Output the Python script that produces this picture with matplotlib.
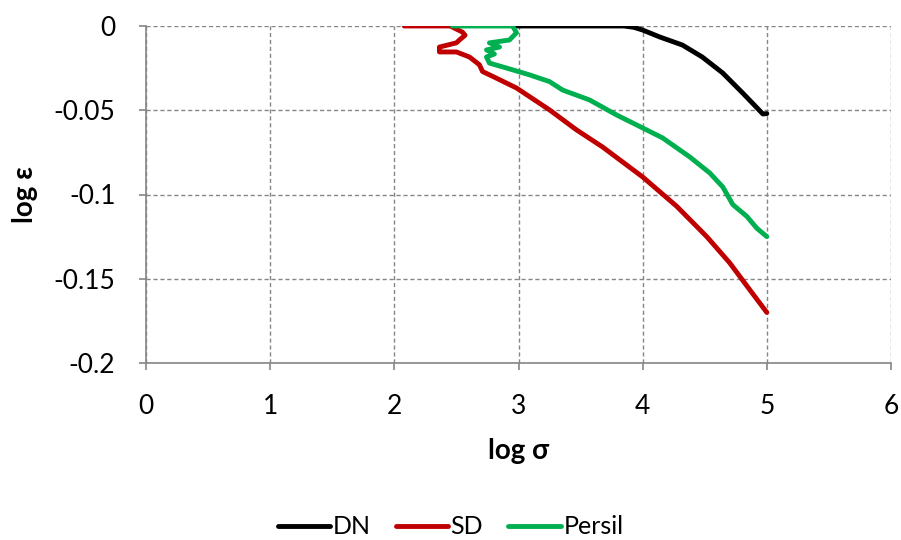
import matplotlib
matplotlib.use("Agg")
import matplotlib.pyplot as plt

plt.rcParams['font.family'] = ['Lato', 'DejaVu Sans']

dn_x = [2.95, 3.5, 3.85, 3.93, 4.0, 4.137, 4.32, 4.48, 4.645, 4.806, 4.968, 5.0]
dn_y = [0.0, 0.0, 0.0, -0.0008, -0.0024, -0.0065, -0.0113, -0.0184, -0.0279, -0.0398, -0.0522, -0.052]

sd_x = [2.08, 2.45, 2.548, 2.57, 2.524, 2.50, 2.363, 2.363, 2.50, 2.605, 2.685, 2.71, 2.823, 2.984,
        3.25, 3.468, 3.677, 4.0, 4.274, 4.516, 4.7, 4.863, 5.0]
sd_y = [0.0, 0.0, -0.0036, -0.0055, -0.0083, -0.0100, -0.0125, -0.0154, -0.0154, -0.0184, -0.023, -0.027, -0.031, -0.0368,
        -0.0498, -0.0617, -0.0718, -0.0896, -0.107, -0.125, -0.1405, -0.1566, -0.170]

pe_x = [2.468, 2.952, 2.984, 2.927, 2.766, 2.847, 2.742, 2.806, 2.742, 2.766, 2.952, 3.089, 3.25,
        3.355, 3.573, 3.79, 4.0, 4.16, 4.379, 4.54, 4.645, 4.726, 4.839, 4.919, 5.0]
pe_y = [0.0, 0.0, -0.004, -0.0083, -0.010, -0.0125, -0.0142, -0.0166, -0.0184, -0.022, -0.026, -0.029, -0.033,
        -0.038, -0.0439, -0.0528, -0.0605, -0.0664, -0.0777, -0.0872, -0.0955, -0.106, -0.113, -0.120, -0.125]

x_ticks = [0, 1, 2, 3, 4, 5, 6]
y_ticks = [0, -0.05, -0.1, -0.15, -0.2]
y_tick_labels = ['0', '-0.05', '-0.1', '-0.15', '-0.2']

fig = plt.figure(figsize=(9.01, 5.40), dpi=100)
ax = fig.add_axes([146/901, 1 - 363/540, 745/901, 337/540])

ax.plot(dn_x, dn_y, color='#000000', lw=3.5, label='DN', solid_capstyle='round', solid_joinstyle='round')
ax.plot(sd_x, sd_y, color='#C00000', lw=3.5, label='SD', solid_capstyle='round', solid_joinstyle='round')
ax.plot(pe_x, pe_y, color='#00B050', lw=3.5, label='Persil', solid_capstyle='round', solid_joinstyle='round')

ax.set_xlim(0, 6)
ax.set_ylim(-0.2, 0)
ax.set_xticks(x_ticks)
ax.set_xticklabels([str(t) for t in x_ticks])
ax.set_yticks(y_ticks)
ax.set_yticklabels(y_tick_labels)

ax.grid(True, color='#868686', linestyle=(0, (3, 2)), linewidth=1)
ax.set_axisbelow(True)
for s in ['top', 'right']:
    ax.spines[s].set_visible(False)
for s in ['left', 'bottom']:
    ax.spines[s].set_color('#868686')
    ax.spines[s].set_linewidth(1.2)
ax.tick_params(axis='both', direction='out', length=5, width=1.2, color='#868686',
               labelsize=19, pad=17)

ax.set_xlabel('log σ', fontsize=20, fontweight='bold', labelpad=14)
ax.set_ylabel('log ε', fontsize=20, fontweight='bold', labelpad=11)

fig.legend(loc='center', bbox_to_anchor=(0.5, 13/540), ncol=3, frameon=False,
           fontsize=18, handlelength=2.1, columnspacing=1.0, handletextpad=0.1)

fig.savefig('out.png', dpi=100)
